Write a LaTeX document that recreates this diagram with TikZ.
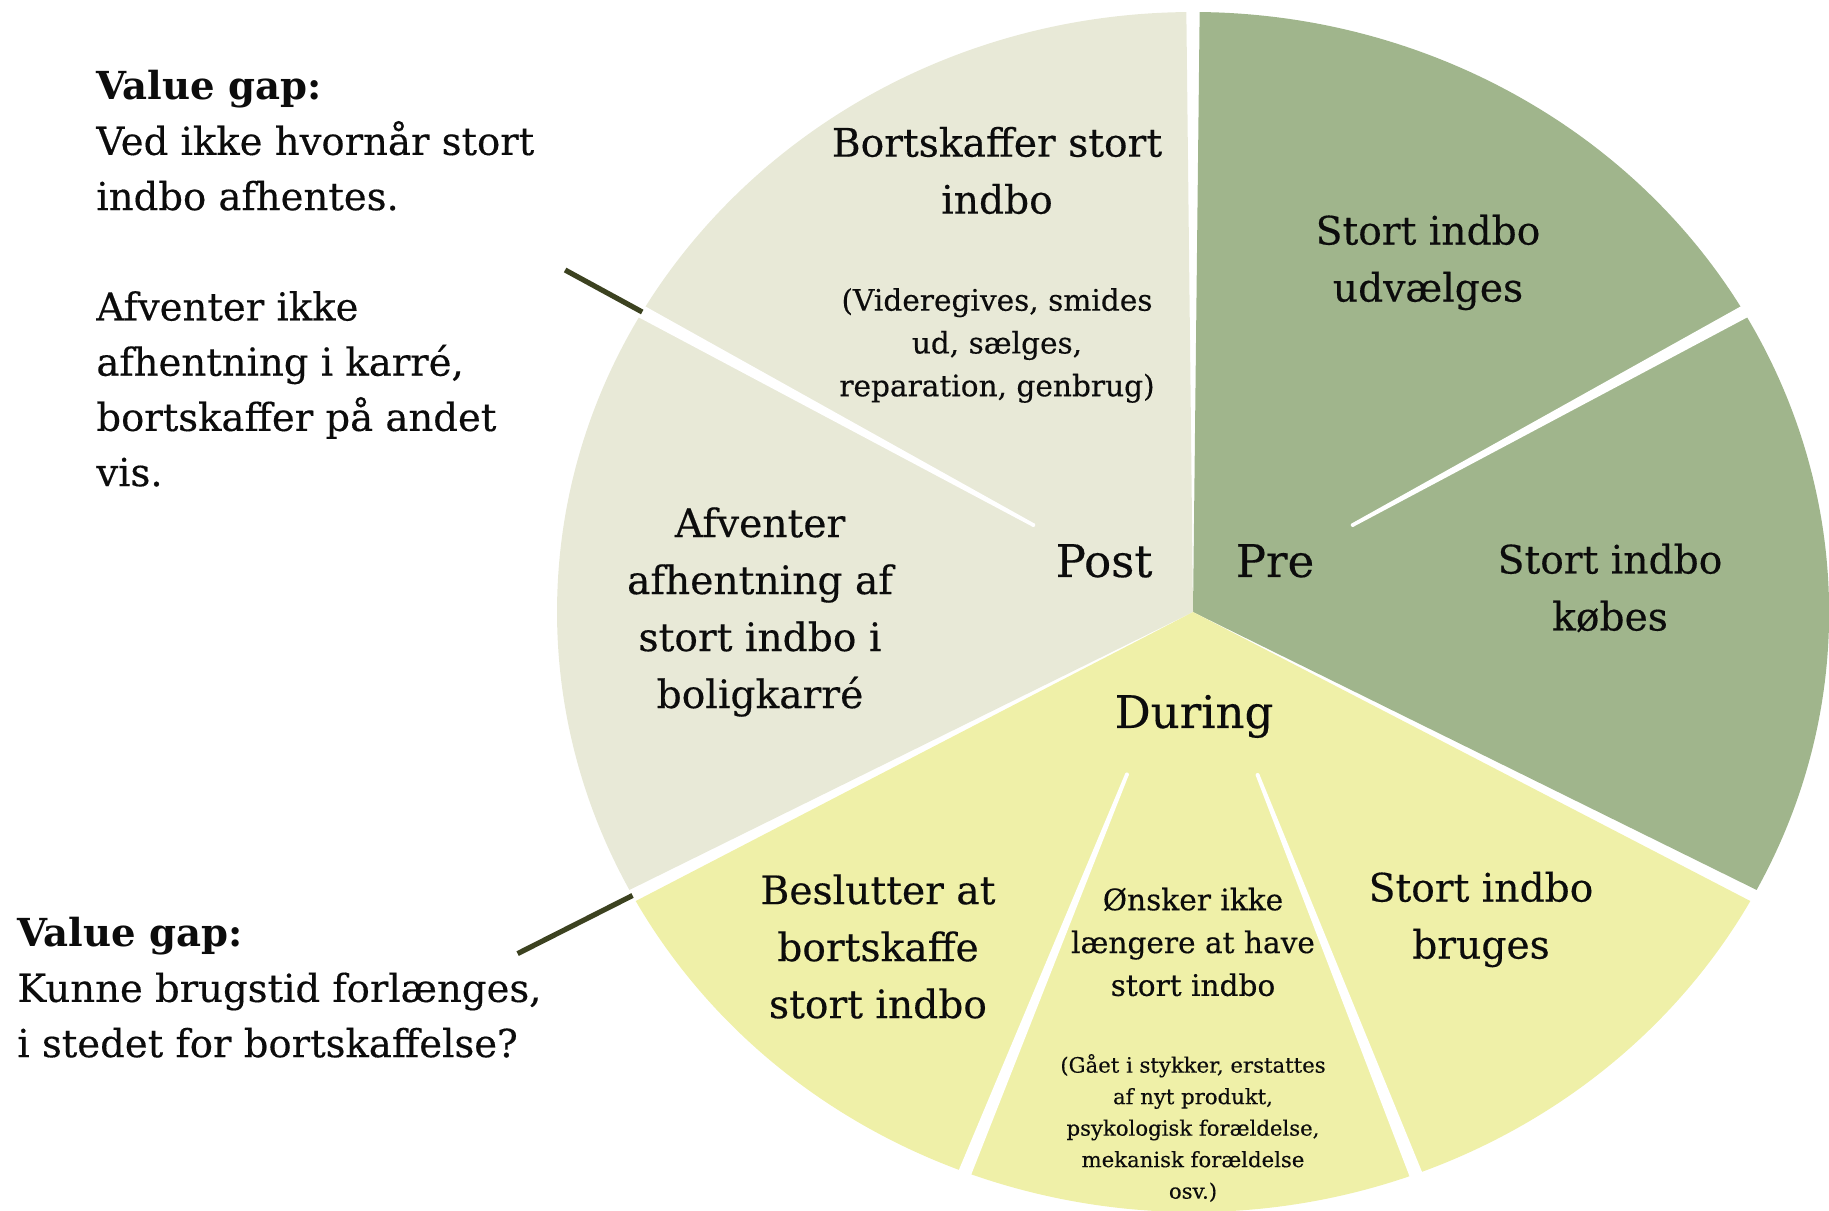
\documentclass[tikz,border=0pt]{standalone}
\usepackage{fontspec}
\setmainfont{DejaVu Serif}[UprightFeatures={FakeBold=0.35}]
\definecolor{prefill}{RGB}{160,181,140}
\definecolor{durfill}{RGB}{239,240,168}
\definecolor{postfill}{RGB}{232,233,215}
\definecolor{gapline}{RGB}{60,66,32}
\definecolor{ink}{RGB}{12,12,12}
\begin{document}
\begin{tikzpicture}[x=0.5pt,y=0.5pt,
  every node/.style={text=ink, inner sep=0pt},
  hub/.style={font=\fontsize{22.5}{28}\selectfont},
  lbl/.style={align=center, font=\fontsize{19.6}{28.5}\selectfont},
  small/.style={align=center, font=\fontsize{14.8}{21.4}\selectfont},
  tiny/.style={align=center, font=\fontsize{10.6}{15.75}\selectfont},
  note/.style={align=left, font=\fontsize{19.3}{27.6}\selectfont},
  gapmark/.style={draw=gapline, line width=2.6pt}]
\useasboundingbox (0,0) rectangle (1829,1210);

% pie: three phases, each cut into sub-steps by white wedges
\begin{scope}[shift={(1193,598)}, xscale=636, yscale=600]
  \fill[prefill]  (0,0) -- (-27.6:1) arc[start angle=-27.6, end angle=89.4, radius=1] -- cycle;
  \fill[postfill] (0,0) -- (90.6:1) arc[start angle=90.6, end angle=207.6, radius=1] -- cycle;
  \fill[durfill]  (0,0) -- (208.8:1) arc[start angle=208.8, end angle=331.2, radius=1] -- cycle;
  \foreach \a/\n in {30/one,150/two,249/three,290.5/four} {
    \fill[white] (\a-0.6:0.29) -- (\a-0.6:1.05) -- (\a+0.6:1.05) -- (\a+0.6:0.29) -- cycle;
    \coordinate (cut\n) at (\a:0.29);
  }
  \coordinate (rimA) at (150:1);
  \coordinate (endA) at (150:1.14);
  \coordinate (rimB) at (208.2:1);
  \coordinate (endB) at (208.2:1.205);
\end{scope}
% rounded inner ends of the sub-step cuts
\foreach \n in {one,two,three,four}
  \fill[white] (cut\n) circle[radius=2];

% value-gap markers
\draw[gapmark] (rimA) -- (endA);
\draw[gapmark] (rimB) -- (endB);

% phase names
\node[hub, anchor=base] (post) at (1104,633) {Post};
\node[hub, anchor=base] (pre) at (1275,633) {Pre};
\node[hub, anchor=base] (during) at (1194,482) {During};

% steps
\node[lbl] (select) at (1428,947.5) {Stort indbo\\udvælges};
\node[lbl] (buy) at (1610,622) {Stort indbo\\købes};
\node[lbl] (use) at (1481,290.5) {Stort indbo\\bruges};
\node[small] (nomore) at (1193,268) {Ønsker ikke\\længere at have\\stort indbo};
\node[tiny] (nomoreinfo) at (1193,82) {(Gået i stykker, erstattes\\af nyt produkt,\\psykologisk forældelse,\\mekanisk forældelse\\osv.)};
\node[lbl] (decide) at (878,263.5) {Beslutter at\\bortskaffe\\stort indbo};
\node[lbl] (await) at (760,598) {Afventer\\afhentning af\\stort indbo i\\boligkarré};
\node[lbl] (dispose) at (997,1039.5) {Bortskaffer stort\\indbo};
\node[small] (disposeinfo) at (997,864.5) {(Videregives, smides\\ud, sælges,\\reparation, genbrug)};

% value-gap notes
\node[note, anchor=west] (gapA) at (96,931.5) {\textbf{Value gap:}\\Ved ikke hvornår stort\\indbo afhentes.\\[27.6pt]Afventer ikke\\afhentning i karré,\\bortskaffer på andet\\vis.};
\node[note, anchor=west] (gapB) at (17,222.5) {\textbf{Value gap:}\\Kunne brugstid forlænges,\\i stedet for bortskaffelse?};
\end{tikzpicture}
\end{document}
